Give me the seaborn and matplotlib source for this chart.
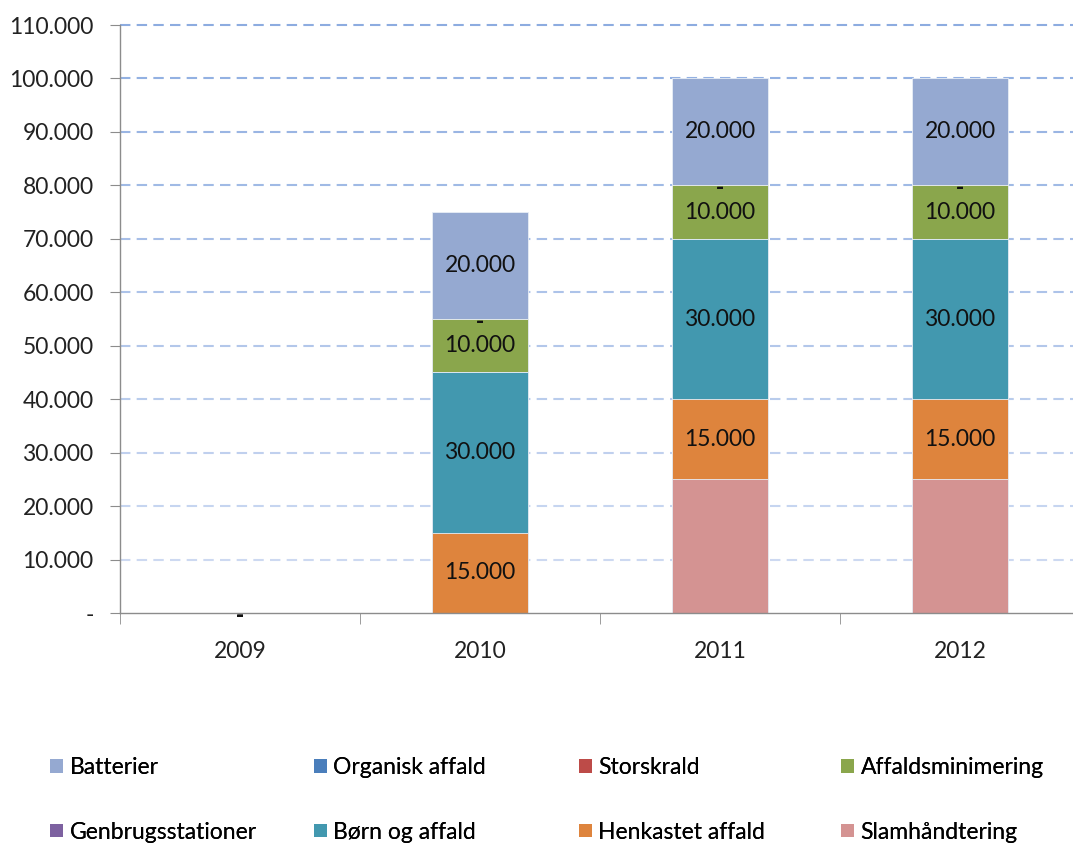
import numpy as np
import pandas as pd
import matplotlib
matplotlib.use("Agg")
import matplotlib.pyplot as plt
import seaborn as sns
from matplotlib.patches import Patch
from matplotlib.ticker import FuncFormatter

# data (stacking order bottom -> top)
years = ["2009", "2010", "2011", "2012"]
series = ["Slamhåndtering", "Henkastet affald", "Børn og affald", "Genbrugsstationer",
          "Affaldsminimering", "Storskrald", "Organisk affald", "Batterier"]
slam = [0, 0, 25000, 25000]
henkastet = [0, 15000, 15000, 15000]
boern = [0, 30000, 30000, 30000]
genbrug = [0, 0, 0, 0]
affmin = [0, 10000, 10000, 10000]
storskrald = [0, 0, 0, 0]
organisk = [0, 0, 0, 0]
batterier = [0, 20000, 20000, 20000]
colors = ["#D49392", "#DE843D", "#4298AF", "#7D61A0",
          "#8AA64C", "#BD4B48", "#4A7EBB", "#95A9D1"]
# series that carry data labels; zero shows as "-"
labelled = ["Henkastet affald", "Børn og affald", "Affaldsminimering",
            "Storskrald", "Organisk affald", "Batterier"]

values = [slam, henkastet, boern, genbrug, affmin, storskrald, organisk, batterier]
df = pd.DataFrame(dict(zip(series, values)), index=years)
cum = df.cumsum(axis=1)

plt.rcParams['font.family'] = ['Lato', 'DejaVu Sans']
fig = plt.figure(figsize=(10.73, 8.43), dpi=100)
ax = fig.add_axes([120 / 1073, 230 / 843, 960 / 1073, 588 / 843])

# draw cumulative bars from top to bottom so lower series overlay
for s, c in reversed(list(zip(series, colors))):
    d = pd.DataFrame({"year": years, "val": cum[s].values})
    sns.barplot(data=d, x="year", y="val", color=c, width=0.4, ax=ax,
                saturation=1, edgecolor="#E8EEF6", linewidth=0.6)

# segment labels
for i, y in enumerate(years):
    for s in labelled:
        v = df.loc[y, s]
        top = cum.loc[y, s]
        if v > 0:
            ax.text(i, top - v / 2, f"{v:,.0f}".replace(",", "."), ha="center",
                    va="center", fontsize=16.5, color="#111111")
        else:
            ax.text(i, top - 600, "-", ha="center", va="center", fontsize=16,
                    color="#111111", fontweight="bold")

ax.set_xlim(-0.5, 3.5)
ax.set_ylim(0, 110000)
ax.set_yticks(np.arange(0, 110001, 10000))
ax.yaxis.set_major_formatter(FuncFormatter(
    lambda v, p: "-" if v == 0 else f"{v:,.0f}".replace(",", ".")))
ax.set_xlabel("")
ax.set_ylabel("")

# gridlines, darker at top
ax.set_axisbelow(True)
ax.yaxis.grid(True, linestyle=(0, (5, 3)), linewidth=1.5)
ax.xaxis.grid(False)
grid_cols = sns.blend_palette(["#D3DEF3", "#8DACE0"], 12)
for k, gl in enumerate(ax.get_ygridlines()):
    gl.set_color(grid_cols[k])
    gl.set_clip_on(False)
    if k == 0:
        gl.set_visible(False)

for sp in ["top", "right"]:
    ax.spines[sp].set_visible(False)
for sp in ["left", "bottom"]:
    ax.spines[sp].set_color("#8C8C8C")
    ax.spines[sp].set_linewidth(1)

ax.tick_params(axis="y", length=7, color="#8C8C8C", labelsize=16.5,
               labelcolor="#222222", pad=12)
# x ticks at category boundaries
ax.set_xticks(np.arange(-0.5, 3.6, 1), minor=True)
ax.tick_params(axis="x", which="minor", length=8, color="#8C8C8C")
ax.tick_params(axis="x", which="major", length=0, labelsize=16.5,
               labelcolor="#222222", pad=20)

# legend: four columns, two rows
leg_order = [["Batterier", "Genbrugsstationer"], ["Organisk affald", "Børn og affald"],
             ["Storskrald", "Henkastet affald"], ["Affaldsminimering", "Slamhåndtering"]]
col_map = dict(zip(series, colors))
xs = [50, 314, 579, 841]
for xpos, names in zip(xs, leg_order):
    handles = [Patch(facecolor=col_map[n], edgecolor="none") for n in names]
    lg = fig.legend(handles, names, loc="upper left",
                    bbox_to_anchor=(xpos / 1073, 1 - 757 / 843), frameon=False,
                    fontsize=16.5, handlelength=0.55, handleheight=0.55,
                    handletextpad=0.3, labelspacing=1.9, borderpad=0,
                    borderaxespad=0)
    fig.add_artist(lg)

fig.savefig("out.png", dpi=100)
